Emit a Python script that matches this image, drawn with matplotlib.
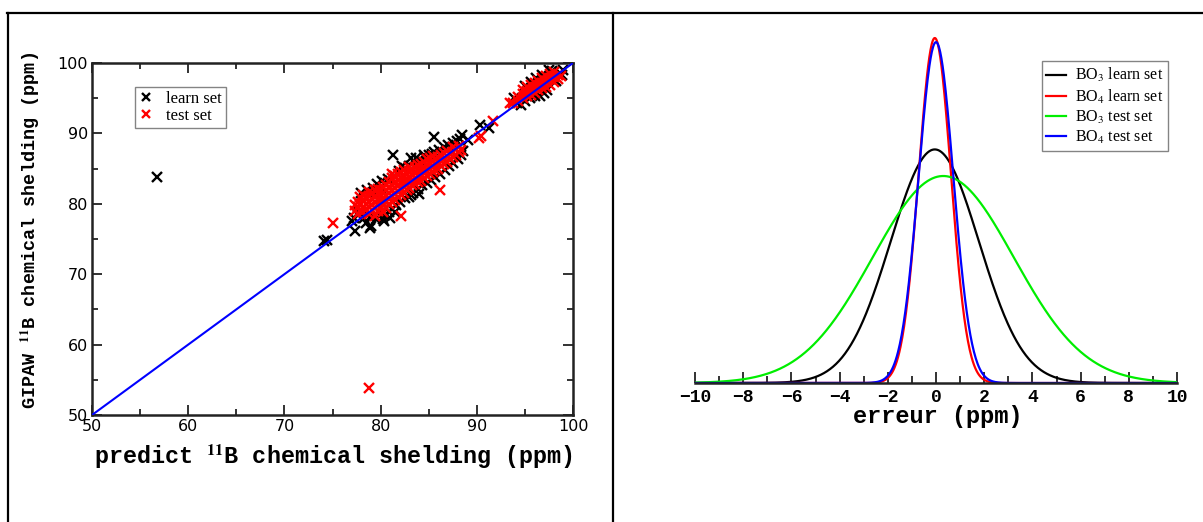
import numpy as np
import matplotlib
matplotlib.use("Agg")
import matplotlib.pyplot as plt
from matplotlib.lines import Line2D
from matplotlib.ticker import MultipleLocator

plt.rcParams['mathtext.fontset'] = 'stix'

# ---------------- data: left panel (scatter) ----------------
learn_x = [56.8, 74.1, 74.4, 77.0, 77.3, 77.2, 78.5, 78.9, 79.0, 80.4, 81.3, 83.2, 85.5, 88.5, 88.6, 89.1, 90.3, 91.3,
           78.0, 78.6, 79.2, 79.6, 80.1, 80.5, 80.0, 79.4, 80.8, 81.4, 81.9, 82.5, 83.0, 83.5, 84.0, 84.6, 85.0, 85.6,
           86.1, 86.6, 87.0, 87.5, 87.9, 88.3, 84.5, 85.3, 86.3, 83.7, 82.2,
           78.3, 78.9, 79.5, 80.0, 80.5, 80.9, 81.2, 81.0, 81.6, 82.0, 82.5, 83.0, 83.4, 83.9, 84.3, 84.8, 85.2, 85.7,
           86.2, 86.7, 87.1, 87.5, 88.0, 88.4, 83.2, 84.0, 81.5, 80.2, 77.6, 77.8,
           93.9, 94.2, 94.6, 95.0, 95.5, 96.0, 96.6, 97.0, 97.5, 99.0, 98.6, 98.9, 96.2, 95.6, 95.0, 96.8, 97.8, 98.2, 97.3]
learn_y = [83.8, 74.7, 74.8, 77.6, 76.1, 78.0, 77.3, 76.5, 76.9, 77.5, 87.0, 86.5, 89.5, 89.8, 87.5, 89.0, 91.2, 90.8,
           81.5, 82.0, 82.3, 82.8, 83.2, 82.9, 82.3, 81.6, 83.5, 83.9, 84.6, 85.1, 85.4, 85.9, 86.2, 86.6, 86.9, 87.3,
           87.7, 88.1, 88.3, 88.6, 88.9, 89.2, 86.9, 87.1, 87.0, 86.5, 85.3,
           78.0, 78.1, 77.8, 78.6, 78.4, 78.9, 79.3, 78.0, 79.8, 80.3, 80.8, 81.0, 81.6, 82.1, 82.6, 83.0, 83.4, 83.8,
           84.3, 84.8, 85.3, 85.8, 86.3, 86.9, 81.3, 81.4, 78.8, 77.9, 78.4, 78.9,
           95.0, 94.3, 94.0, 94.6, 95.0, 95.3, 95.3, 95.8, 99.0, 99.0, 98.5, 98.3, 97.8, 97.3, 96.8, 98.3, 98.8, 97.5, 96.2]

test_x = [77.3, 77.3, 77.6, 77.6, 77.6, 77.9, 77.9, 77.9, 78.2, 78.2, 78.2, 78.2, 78.5, 78.5, 78.5,
          78.8, 78.8, 78.8, 78.8, 78.8, 79.1, 79.1, 79.1, 79.1, 79.4, 79.4, 79.4, 79.4, 79.4,
          79.7, 79.7, 79.7, 79.7, 79.7, 80.0, 80.0, 80.0, 80.0, 80.3, 80.3, 80.3, 80.3, 80.3,
          80.6, 80.6, 80.6, 80.6, 80.6, 80.9, 80.9, 80.9, 80.9, 80.9, 81.2, 81.2, 81.2, 81.2, 81.2, 81.2,
          81.5, 81.5, 81.5, 81.5, 81.5, 81.8, 81.8, 81.8, 81.8, 81.8, 82.1, 82.1, 82.1, 82.1, 82.1, 82.1,
          82.4, 82.4, 82.4, 82.4, 82.4, 82.7, 82.7, 82.7, 82.7, 83.0, 83.0, 83.0, 83.0, 83.0,
          83.3, 83.3, 83.3, 83.3, 83.6, 83.6, 83.6, 83.6, 83.9, 83.9, 83.9, 83.9, 84.2, 84.2, 84.2, 84.2,
          84.5, 84.5, 84.5, 84.5, 84.8, 84.8, 84.8, 84.8, 85.1, 85.1, 85.1, 85.1, 85.4, 85.4, 85.4, 85.4,
          85.7, 85.7, 85.7, 86.0, 86.0, 86.0, 86.2, 86.3, 86.3, 86.3, 86.6, 86.6, 86.6, 86.9, 86.9, 86.9,
          87.2, 87.2, 87.5, 87.5, 87.5, 87.8, 87.8, 88.1, 88.1, 88.4,
          75.0, 90.2, 90.4, 91.7, 93.5, 78.8,
          93.8, 94.3, 94.3, 94.8, 94.8, 94.8, 95.2, 95.2, 95.2, 95.6, 95.6, 95.6, 96.0, 96.0, 96.0,
          96.4, 96.4, 96.4, 96.8, 96.8, 96.8, 97.2, 97.2, 97.2, 97.6, 97.6, 97.6, 98.0, 98.0, 98.0,
          98.4, 98.4, 98.8]
test_y = [79.0, 79.8, 78.6, 79.5, 80.3, 79.0, 79.9, 81.0, 78.8, 79.6, 80.5, 81.2, 79.2, 80.0, 80.9,
          78.6, 79.5, 80.3, 81.1, 81.7, 79.1, 79.9, 80.7, 81.5, 78.3, 79.4, 80.2, 81.0, 81.9,
          79.0, 79.8, 80.6, 81.4, 82.1, 79.6, 80.4, 81.2, 82.0, 78.9, 80.0, 80.8, 81.6, 82.4,
          79.4, 80.3, 81.1, 81.9, 82.7, 80.0, 80.8, 81.6, 82.4, 83.1, 80.2, 81.1, 81.9, 82.7, 83.6, 84.3,
          80.6, 81.4, 82.2, 83.0, 84.0, 81.0, 81.8, 82.6, 83.4, 84.3, 78.3, 81.2, 82.1, 82.9, 83.7, 84.5,
          81.6, 82.4, 83.2, 84.0, 84.8, 81.9, 82.7, 83.5, 84.3, 82.2, 83.0, 83.8, 84.6, 85.2,
          82.6, 83.3, 84.1, 84.9, 82.8, 83.6, 84.4, 85.2, 83.1, 83.9, 84.7, 85.5, 83.3, 84.1, 84.9, 85.7,
          83.6, 84.4, 85.2, 86.0, 83.9, 84.7, 85.5, 86.3, 84.2, 85.0, 85.8, 86.5, 84.5, 85.3, 86.1, 86.8,
          84.8, 85.6, 86.4, 85.0, 85.9, 86.7, 82.0, 85.3, 86.1, 87.0, 85.6, 86.4, 87.2, 86.0, 86.8, 87.5,
          86.3, 87.1, 86.7, 87.4, 88.1, 87.0, 87.8, 87.3, 88.2, 87.7,
          77.3, 89.3, 89.6, 91.8, 94.3, 53.8,
          94.3, 94.6, 95.2, 95.0, 95.6, 96.2, 95.3, 96.0, 96.6, 95.5, 96.2, 96.9, 95.8, 96.5, 97.2,
          96.1, 96.8, 97.5, 96.4, 97.1, 97.8, 96.6, 97.4, 98.1, 96.9, 97.7, 98.4, 97.3, 98.0, 98.7,
          97.7, 98.3, 98.2]

diag_x = [50, 100]
diag_y = [50, 100]

# ---------------- data: right panel (fitted gaussians) ----------------
curve_labels = ["BO$_3$ learn set", "BO$_4$ learn set", "BO$_3$ test set", "BO$_4$ test set"]
curve_colors = ["black", "red", "#00ee00", "blue"]
curve_mean = [-0.05, -0.05, 0.30, 0.0]
curve_sigma = [1.83, 0.67, 2.93, 0.72]
curve_peak = [0.677, 1.0, 0.60, 0.988]

W, H = 1203, 522
fig = plt.figure(figsize=(W / 100, H / 100), dpi=100)

# table-like frame
def fline(x0, y0, x1, y1, lw=1.6):
    fig.add_artist(Line2D([x0 / W, x1 / W], [1 - y0 / H, 1 - y1 / H],
                          transform=fig.transFigure, color='black', lw=lw))
fline(7, 13, 1203, 13)
fline(8, 13, 8, 522)
fline(613, 13, 613, 522)

# ---------------- left panel ----------------
axL = fig.add_axes([92 / W, 1 - 415 / H, (573 - 92) / W, (415 - 63) / H])
axL.plot(learn_x, learn_y, ls='none', marker='x', ms=7.2, mew=1.7, color='black', label='learn set', zorder=2)
axL.plot(test_x, test_y, ls='none', marker='x', ms=7.2, mew=1.7, color='red', label='test set', zorder=3)
axL.plot(diag_x, diag_y, color='blue', lw=1.5, zorder=4)
axL.set_xlim(50, 100)
axL.set_ylim(50, 100)
axL.xaxis.set_major_locator(MultipleLocator(10))
axL.yaxis.set_major_locator(MultipleLocator(10))
axL.xaxis.set_minor_locator(MultipleLocator(5))
axL.yaxis.set_minor_locator(MultipleLocator(5))
axL.tick_params(which='both', direction='in', top=True, right=True, width=1.3, colors='#222222')
axL.tick_params(which='major', length=7, labelsize=11.5, pad=3)
axL.tick_params(which='minor', length=4)
for lab in axL.get_xticklabels() + axL.get_yticklabels():
    lab.set_family('DejaVu Sans')
    lab.set_color('black')
for s in axL.spines.values():
    s.set_linewidth(1.8)
    s.set_color('#222222')
axL.set_xlabel(r"predict $^{\mathbf{11}}$B chemical shelding (ppm)", family='Liberation Mono',
               fontweight='bold', fontsize=16.8)
axL.xaxis.set_label_coords(0.501, -0.118)
axL.xaxis.label.set_va('center')
axL.set_ylabel(r"GIPAW $^{\mathbf{11}}$B chemical shelding (ppm)", family='Liberation Mono',
               fontweight='bold', fontsize=13.3)
axL.yaxis.set_label_coords(-0.128, 0.523)
axL.yaxis.label.set_va('center')
legL = axL.legend(loc='upper left', bbox_to_anchor=(0.09, 0.932), prop={'family': 'Liberation Serif', 'size': 12},
                  frameon=True, fancybox=False, edgecolor='#666666', handlelength=0.8, handletextpad=0.8,
                  borderpad=0.25, labelspacing=0.05, borderaxespad=0, markerscale=0.8)
legL.get_frame().set_linewidth(1.0)

# ---------------- right panel ----------------
base_px = 383
top_px = base_px - 345 * 1.03
axR = fig.add_axes([695 / W, 1 - base_px / H, (1177 - 695) / W, (base_px - top_px) / H])
xs = np.linspace(-10, 10, 801)
for lab, col, mu, sg, pk in zip(curve_labels, curve_colors, curve_mean, curve_sigma, curve_peak):
    axR.plot(xs, pk * np.exp(-0.5 * ((xs - mu) / sg) ** 2), color=col, lw=1.6, label=lab)
axR.set_xlim(-10, 10)
axR.set_ylim(0, 1.03)
for k in ['top', 'left', 'right']:
    axR.spines[k].set_visible(False)
axR.spines['bottom'].set_linewidth(1.8)
axR.spines['bottom'].set_color('#222222')
axR.set_yticks([])
axR.xaxis.set_major_locator(MultipleLocator(2))
axR.xaxis.set_minor_locator(MultipleLocator(1))
axR.tick_params(axis='x', which='both', direction='in', width=1.3, colors='#222222')
axR.tick_params(axis='x', which='major', length=8, labelsize=13, pad=4)
axR.tick_params(axis='x', which='minor', length=5)
for lab in axR.get_xticklabels():
    lab.set_family('Liberation Mono')
    lab.set_fontweight('bold')
    lab.set_color('black')
axR.set_xlabel("erreur (ppm)", family='Liberation Mono', fontweight='bold', fontsize=17)
axR.xaxis.set_label_coords(0.504, -0.093)
axR.xaxis.label.set_va('center')
legR = axR.legend(loc='upper right', bbox_to_anchor=(0.982, 0.905), prop={'family': 'Liberation Serif', 'size': 11.5},
                  frameon=True, fancybox=False, edgecolor='#666666', handlelength=1.2, handletextpad=0.6,
                  borderpad=0.3, labelspacing=0.2, borderaxespad=0)
legR.get_frame().set_linewidth(1.0)

fig.savefig("out.png", dpi=100)
